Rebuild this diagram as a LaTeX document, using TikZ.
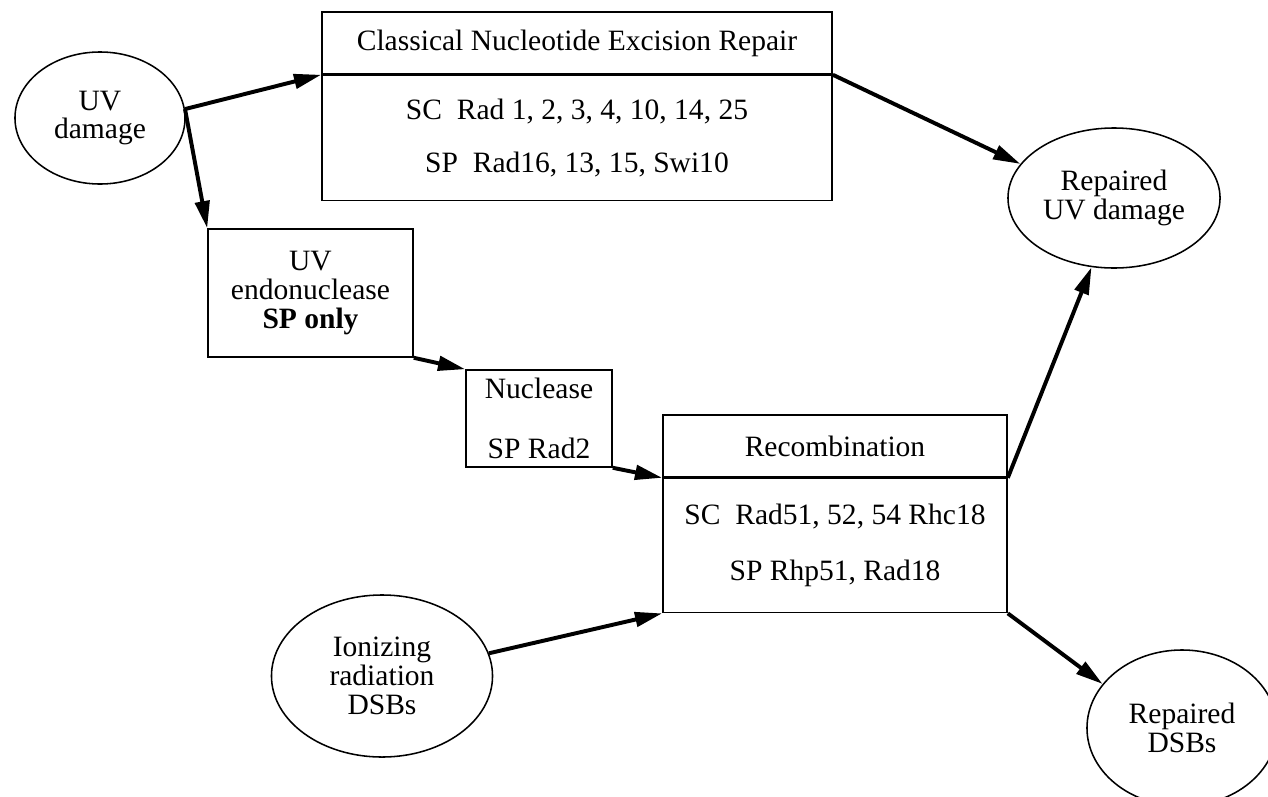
\documentclass[tikz,border=0pt]{standalone}
\usepackage{fontspec}
\setmainfont{Liberation Serif}
\usetikzlibrary{shapes.geometric,arrows.meta,positioning}

\begin{document}
\begin{tikzpicture}[x=0.025cm, y=-0.025cm,
      blob/.style={ellipse, draw=black, line width=1.1pt, inner sep=0pt, align=center, font=\fontsize{21}{20.5}\selectfont},
      kasten/.style={rectangle, draw=black, line width=1.1pt, inner sep=0pt, align=center, font=\fontsize{21}{20.5}\selectfont},
      trenn/.style={line width=2.2pt},
      pfeil/.style={-{Triangle[length=0.68cm,width=0.36cm]}, line width=2.8pt}]

\useasboundingbox (0,0) rectangle (1268,796);

% ellipses
\node[blob, minimum width=4.25cm, minimum height=3.3cm] (uvd) at (100,118) {UV\\damage};
\node[blob, minimum width=5.3cm, minimum height=3.5cm] (repuv) at (1114,198) {Repaired\\UV damage};
\node[blob, minimum width=5.525cm, minimum height=4.05cm] (ion) at (382,676) {Ionizing\\radiation\\DSBs};
\node[blob, minimum width=4.75cm, minimum height=3.9cm] (repdsb) at (1182,728) {Repaired\\DSBs};

% boxes
\node[kasten, minimum width=12.75cm, minimum height=1.55cm] (nerhead) at (577,43) {Classical Nucleotide Excision Repair};
\node[kasten, minimum width=12.75cm, minimum height=3.125cm, below=0pt of nerhead] (nerbody) {SC\ \ Rad 1, 2, 3, 4, 10, 14, 25\\[17pt]SP\ \ Rad16, 13, 15, Swi10};
\node[kasten, minimum width=5.125cm, minimum height=3.2cm] (endo) at (310.5,293) {UV\\endonuclease\\\textbf{SP only}};
\node[kasten, minimum width=3.65cm, minimum height=2.425cm] (nuc) at (539,418.5) {Nuclease\\[22pt]SP Rad2};
\node[kasten, minimum width=8.6cm, minimum height=1.55cm] (rechead) at (835,446) {Recombination};
\node[kasten, minimum width=8.6cm, minimum height=3.35cm, below=0pt of rechead] (recbody) {SC\ \ Rad51, 52, 54 Rhc18\\[19pt]SP Rhp51, Rad18};

\draw[trenn] (nerhead.south west) -- (nerhead.south east);
\draw[trenn] (rechead.south west) -- (rechead.south east);

\draw[pfeil] (uvd.6) -- (nerhead.south west);
\draw[pfeil] (uvd.6) -- (endo.north west);
\draw[pfeil] (endo.south east) -- (nuc.north west);
\draw[pfeil] (nuc.south east) -- (rechead.south west);
\draw[pfeil] (ion.12) -- (recbody.south west);
\draw[pfeil] (nerhead.south east) -- (repuv.160);
\draw[pfeil] (rechead.south east) -- (repuv.252);
\draw[pfeil] (recbody.south east) -- (repdsb.151);

\end{tikzpicture}
\end{document}
